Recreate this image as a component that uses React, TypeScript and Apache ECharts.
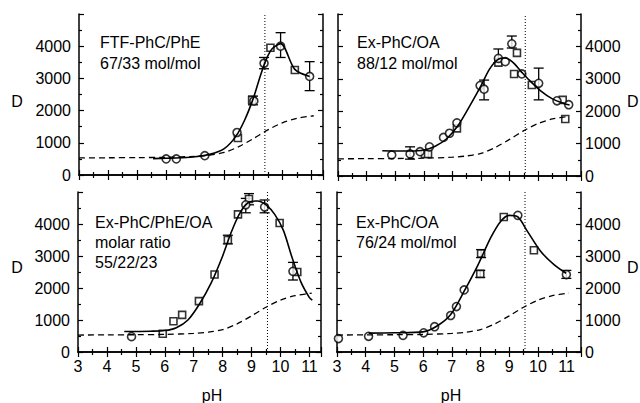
import React, { useEffect, useRef } from "react";
import * as echarts from "echarts";

// ---- data ----
const pHTicks = [3, 4, 5, 6, 7, 8, 9, 10, 11];
const dTicks = [0, 1000, 2000, 3000, 4000];

const dashedCurve = [[3, 530], [4, 535], [5, 540], [6, 550], [7, 580], [7.5, 620], [8, 700], [8.5, 880], [9, 1130], [9.5, 1400], [10, 1620], [10.5, 1760], [11, 1830], [11.08, 1840]];

const tlCircles = [[6.0, 500], [6.35, 500], [7.33, 600], [8.44, 1320], [9.02, 2300], [9.37, 3470], [9.94, 4000], [10.94, 3060]];
const tlSquares = [[8.47, 1150], [8.96, 2330], [9.59, 3950], [10.43, 3260]];
const tlErrors = [[8.99, 2180, 2450], [9.37, 3300, 3650], [9.94, 3650, 4420], [10.94, 2620, 3520]];
const tlFit = [[5.55, 510], [6, 520], [6.5, 535], [7, 565], [7.5, 640], [8, 820], [8.4, 1200], [8.7, 1700], [9, 2380], [9.25, 3100], [9.45, 3600], [9.65, 3920], [9.94, 4080], [10.43, 3280], [10.94, 3060]];
const tlPk = 9.4;

const trCircles = [[4.88, 650], [5.52, 680], [5.87, 750], [6.2, 900], [6.69, 1190], [6.9, 1320], [7.16, 1640], [7.97, 2790], [8.11, 2680], [8.61, 3630], [8.85, 3530], [9.08, 4080], [9.43, 3150], [10.02, 2860], [10.66, 2320], [11.07, 2200]];
const trSquares = [[6.04, 680], [6.15, 680], [7.16, 1470], [8.61, 3500], [9.16, 3150], [9.26, 3800], [9.78, 2810], [10.86, 2350], [10.95, 1760]];
const trErrors = [[5.52, 520, 900], [8.11, 2350, 2960], [8.61, 3500, 3920], [9.08, 3950, 4320], [10.02, 2350, 3330]];
const trFit = [[4.55, 780], [5.5, 770], [6, 800], [6.4, 920], [6.8, 1150], [7.2, 1560], [7.6, 2150], [8, 2780], [8.3, 3300], [8.6, 3600], [8.85, 3640], [9.1, 3520], [9.4, 3230], [9.7, 2950], [10.1, 2620], [10.5, 2380], [10.9, 2240], [11.1, 2190]];
const trPk = 9.55;

const blCircles = [[4.85, 480], [8.8, 4600], [9.45, 4530], [10.43, 2520]];
const blSquares = [[5.93, 570], [6.3, 960], [6.6, 1160], [7.18, 1590], [7.72, 2420], [8.18, 3500], [8.53, 4300], [8.91, 4780], [9.97, 4030], [10.58, 2500]];
const blErrors = [[8.18, 3380, 3650], [8.8, 4350, 4800], [8.91, 4600, 4950], [9.45, 4350, 4750], [10.43, 2250, 2800]];
const blFit = [[4.6, 640], [5.5, 650], [6, 670], [6.4, 760], [6.8, 1000], [7.2, 1500], [7.6, 2150], [8, 3000], [8.3, 3750], [8.6, 4350], [8.9, 4680], [9.2, 4720], [9.5, 4600], [9.8, 4300], [10.1, 3800], [10.4, 2950], [10.7, 2200], [11, 1700], [11.1, 1620]];
const blPk = 9.55;

const brCircles = [[3.05, 420], [4.1, 490], [5.3, 520], [6.02, 600], [6.4, 790], [6.96, 1140], [7.16, 1420], [7.43, 1940], [9.3, 4270], [10.99, 2420]];
const brSquares = [[7.99, 2440], [8.02, 3080], [8.81, 4220], [9.86, 3180]];
const brErrors = [[8.02, 2950, 3200], [7.99, 2330, 2550], [10.99, 2300, 2550]];
const brFit = [[4.1, 590], [5, 600], [6, 630], [6.5, 820], [6.96, 1170], [7.43, 1900], [7.9, 2700], [8.36, 3580], [8.7, 4080], [9, 4270], [9.3, 4220], [9.64, 3760], [10.1, 3140], [10.57, 2720], [10.98, 2460]];
const brPk = 9.55;

const tlLabel = ["FTF-PhC/PhE", "67/33 mol/mol"];
const trLabel = ["Ex-PhC/OA", "88/12 mol/mol"];
const blLabel = ["Ex-PhC/PhE/OA", "molar ratio", "55/22/23"];
const brLabel = ["Ex-PhC/OA", "76/24 mol/mol"];

const FONT = "'Liberation Sans', Arial, Helvetica, sans-serif";

export default function App() {
  const ref = useRef<HTMLDivElement>(null);
  useEffect(() => {
    const chart = echarts.init(ref.current!, null, { renderer: "svg" });

    const panels = [
      { grid: { left: 79, top: 14, width: 244, height: 161 }, xMax: 11.4, xLabels: false, yRight: false, circles: tlCircles, squares: tlSquares, errors: tlErrors, fit: tlFit, pk: tlPk },
      { grid: { left: 338, top: 14, width: 243, height: 162 }, xMax: 11.5, xLabels: false, yRight: true, circles: trCircles, squares: trSquares, errors: trErrors, fit: trFit, pk: trPk },
      { grid: { left: 78, top: 192, width: 243, height: 160 }, xMax: 11.4, xLabels: true, yRight: false, circles: blCircles, squares: blSquares, errors: blErrors, fit: blFit, pk: blPk },
      { grid: { left: 337, top: 192, width: 244, height: 160 }, xMax: 11.5, xLabels: true, yRight: true, circles: brCircles, squares: brSquares, errors: brErrors, fit: brFit, pk: brPk },
    ];

    const tickStyle = { color: "#000", width: 1.2 };
    const lineStyle = { color: "#000", width: 1.5 };
    const labelStyle = { color: "#000", fontSize: 16, fontFamily: FONT };

    const grids: any[] = [];
    const xAxes: any[] = [];
    const yAxes: any[] = [];
    const series: any[] = [];

    panels.forEach((p, i) => {
      grids.push({ ...p.grid, containLabel: false });
      const xb = xAxes.length;
      const baseX = {
        type: "value", gridIndex: i, min: 3, max: p.xMax, interval: 1,
        splitLine: { show: false }, minorSplitLine: { show: false },
        axisLine: { show: true, lineStyle },
        axisTick: { show: true, inside: true, length: 5, lineStyle: tickStyle },
        minorTick: { show: true, splitNumber: 2, length: 3, lineStyle: tickStyle },
      };
      xAxes.push({
        ...baseX, position: "bottom",
        axisLabel: {
          show: p.xLabels, ...labelStyle, margin: 6, showMaxLabel: false,
          formatter: (v: number) => (pHTicks.includes(v) ? String(v) : ""),
        },
      });
      xAxes.push({ ...baseX, position: "top", axisLabel: { show: false } });
      const yb = yAxes.length;
      const baseY = {
        type: "value", gridIndex: i, min: 0, max: 5000, interval: 1000,
        splitLine: { show: false }, minorSplitLine: { show: false },
        axisLine: { show: true, lineStyle },
        axisTick: { show: true, inside: true, length: 5, lineStyle: tickStyle },
        minorTick: { show: true, splitNumber: 2, length: 3, lineStyle: tickStyle },
      };
      const lab = {
        ...labelStyle, showMaxLabel: false,
        formatter: (v: number) => (dTicks.includes(v) ? String(v) : ""),
      };
      yAxes.push({ ...baseY, position: "left", axisLabel: { show: !p.yRight, ...lab, margin: 8 } });
      yAxes.push({ ...baseY, position: "right", axisLabel: { show: p.yRight, ...lab, margin: 4 } });

      const xi = xb, yi = yb;
      series.push({
        type: "line", xAxisIndex: xi, yAxisIndex: yi, data: dashedCurve, smooth: 0.3,
        showSymbol: false, silent: true,
        lineStyle: { color: "#000", width: 1.3, type: [6, 4] },
      });
      series.push({
        type: "line", xAxisIndex: xi, yAxisIndex: yi, data: [[p.pk, 0], [p.pk, 5000]],
        showSymbol: false, silent: true,
        lineStyle: { color: "#000", width: 1, type: [1, 2] },
      });
      series.push({
        type: "line", xAxisIndex: xi, yAxisIndex: yi, data: p.fit, smooth: 0.3,
        showSymbol: false, silent: true,
        lineStyle: { color: "#000", width: 1.6 },
      });
      series.push({
        type: "custom", xAxisIndex: xi, yAxisIndex: yi, data: p.errors, silent: true,
        encode: { x: 0, y: [1, 2] },
        renderItem: (params: any, api: any) => {
          const x = api.value(0), lo = api.value(1), hi = api.value(2);
          const a = api.coord([x, lo]);
          const b = api.coord([x, hi]);
          const w = 5;
          const st = { stroke: "#000", lineWidth: 1.3 };
          return {
            type: "group",
            children: [
              { type: "line", shape: { x1: a[0], y1: a[1], x2: b[0], y2: b[1] }, style: st },
              { type: "line", shape: { x1: a[0] - w, y1: a[1], x2: a[0] + w, y2: a[1] }, style: st },
              { type: "line", shape: { x1: b[0] - w, y1: b[1], x2: b[0] + w, y2: b[1] }, style: st },
            ],
          };
        },
      });
      series.push({
        type: "scatter", xAxisIndex: xi, yAxisIndex: yi, data: p.squares, symbol: "rect", symbolSize: 7,
        itemStyle: { color: "#fff", borderColor: "#000", borderWidth: 1.6 }, silent: true,
      });
      series.push({
        type: "scatter", xAxisIndex: xi, yAxisIndex: yi, data: p.circles, symbol: "circle", symbolSize: 8,
        itemStyle: { color: "#fff", borderColor: "#000", borderWidth: 1.6 }, silent: true,
      });
    });

    const txt = (x: number, y: number, text: string, align = "left") => ({
      type: "text", x, y,
      style: { text, fill: "#000", fontSize: 16, fontFamily: FONT, align, verticalAlign: "middle" },
    });
    const graphics: any[] = [];
    tlLabel.forEach((t, k) => graphics.push(txt(100, 42 + k * 21, t)));
    trLabel.forEach((t, k) => graphics.push(txt(357, 42 + k * 21, t)));
    blLabel.forEach((t, k) => graphics.push(txt(95, 222 + k * 20, t)));
    brLabel.forEach((t, k) => graphics.push(txt(356, 222 + k * 20, t)));
    graphics.push(txt(17, 101, "D", "center"));
    graphics.push(txt(17, 267, "D", "center"));
    graphics.push(txt(627, 101, "D"));
    graphics.push(txt(627, 267, "D"));
    graphics.push(txt(212, 395, "pH", "center"));
    graphics.push(txt(451, 395, "pH", "center"));

    chart.setOption({
      animation: false,
      backgroundColor: "#fff",
      grid: grids,
      xAxis: xAxes,
      yAxis: yAxes,
      series,
      graphic: graphics,
    });
    return () => chart.dispose();
  }, []);
  return <div ref={ref} style={{ position: "absolute", left: 0, top: 0, width: 640, height: 403 }} />;
}
